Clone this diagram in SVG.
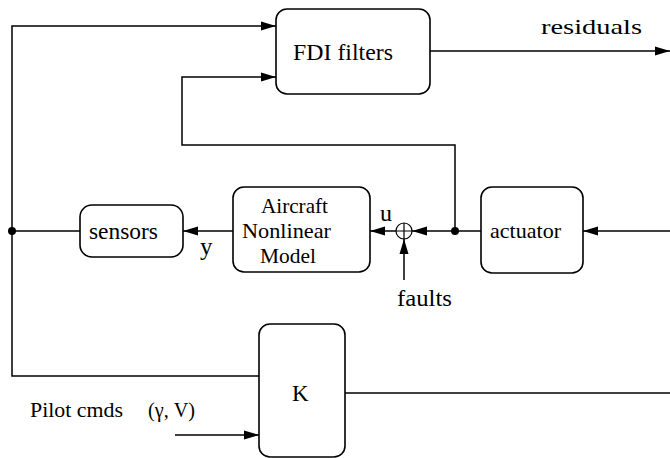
<svg xmlns="http://www.w3.org/2000/svg" width="670" height="458" viewBox="0 0 670 458" font-family="'Liberation Serif', 'DejaVu Serif', serif">
<defs>
<marker id="ah" markerUnits="userSpaceOnUse" markerWidth="16" markerHeight="10" refX="15" refY="5" orient="auto">
<path d="M0,0.5 L15,5 L0,9.5 z" fill="#000"/>
</marker>
<style>
.box{fill:#fff;stroke:#000;stroke-width:1.6}
.ln{fill:none;stroke:#000;stroke-width:1.5}
.ar{marker-end:url(#ah)}
.t{font-family:'Liberation Serif','DejaVu Serif',serif;fill:#000}
</style>
</defs>
<rect width="670" height="458" fill="#fff"/>
<g id="connectors">
<path class="ln" d="M12,231 V376 H259"/>
<path class="ln ar" d="M12,231 V26 H276"/>
<path class="ln" d="M80,231 H12"/>
<circle cx="12" cy="231" r="4" fill="#000"/>
<path class="ln ar" d="M455,231 V145 H182 V77 H276"/>
<path class="ln ar" d="M430,51 H670"/>
<path class="ln ar" d="M481,231 H412"/>
<circle cx="455" cy="231" r="4" fill="#000"/>
<path class="ln ar" d="M396,231 H370"/>
<path class="ln ar" d="M404,280 V239"/>
<path class="ln ar" d="M233,231 H183"/>
<path class="ln ar" d="M670,231 H583"/>
<path class="ln" d="M345,393 H670"/>
<path class="ln ar" d="M175,435 H259"/>
<text class="t" x="541" y="34" font-size="22" textLength="101" lengthAdjust="spacingAndGlyphs">residuals</text>
<text class="t" x="380" y="221" font-size="24">u</text>
<text class="t" x="200" y="255" font-size="25">y</text>
<text class="t" x="397" y="306" font-size="23" textLength="55" lengthAdjust="spacingAndGlyphs">faults</text>
<text class="t" x="30" y="417" font-size="20" textLength="93" lengthAdjust="spacingAndGlyphs">Pilot cmds</text>
<text class="t" x="148" y="417" font-size="20" textLength="47" lengthAdjust="spacingAndGlyphs">(γ, V)</text>
</g>
<g id="sum">
<circle cx="404" cy="231" r="8" fill="#fff" stroke="#000" stroke-width="1.2"/>
<path d="M396,231 H412 M404,223 V239" stroke="#000" stroke-width="1.2"/>
</g>
<g id="fdi">
<rect class="box" x="276" y="9" width="154" height="85" rx="11"/>
<text class="t" x="293" y="60" font-size="23" textLength="100" lengthAdjust="spacingAndGlyphs">FDI filters</text>
</g>
<g id="sensors">
<rect class="box" x="80" y="205" width="103" height="52" rx="12"/>
<text class="t" x="89" y="239" font-size="23" textLength="69" lengthAdjust="spacingAndGlyphs">sensors</text>
</g>
<g id="aircraft">
<rect class="box" x="233" y="187" width="137" height="85" rx="11"/>
<text class="t" x="261" y="213" font-size="22" textLength="67" lengthAdjust="spacingAndGlyphs">Aircraft</text>
<text class="t" x="242" y="238" font-size="22" textLength="89" lengthAdjust="spacingAndGlyphs">Nonlinear</text>
<text class="t" x="260" y="263" font-size="22" textLength="56" lengthAdjust="spacingAndGlyphs">Model</text>
</g>
<g id="actuator">
<rect class="box" x="481" y="187" width="102" height="86" rx="11"/>
<text class="t" x="490" y="238" font-size="21" textLength="71" lengthAdjust="spacingAndGlyphs">actuator</text>
</g>
<g id="K">
<rect class="box" x="259" y="324" width="86" height="133" rx="11"/>
<text class="t" x="292" y="401" font-size="23">K</text>
</g>
</svg>
